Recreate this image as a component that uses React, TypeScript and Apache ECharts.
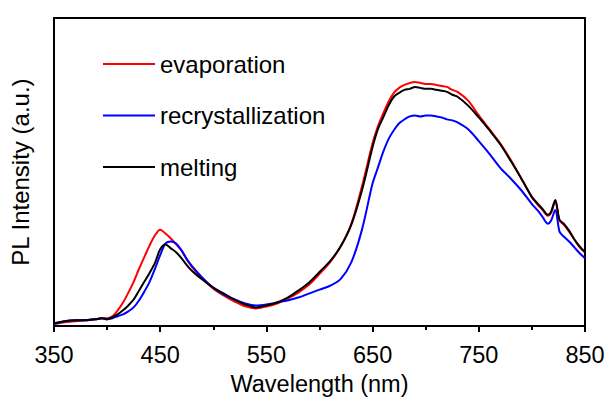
import React, { useEffect, useRef } from "react";
import * as echarts from "echarts";

// Wavelength sample points (nm)
const wavelengths = [
  350, 360, 370, 380, 390, 395, 400, 405, 410, 415, 420, 425, 430, 435, 440, 445,
  450, 455, 460, 465, 470, 475, 480, 490, 500, 510, 520, 530, 540, 550, 560, 570,
  580, 590, 600, 610, 620, 630, 640, 650, 655, 660, 665, 670, 675, 680, 685, 690,
  695, 700, 705, 710, 715, 720, 725, 730, 740, 750, 760, 770, 780, 790, 800, 805,
  810, 815, 818, 822, 826, 830, 835, 840, 845, 850,
];

// PL intensity (a.u.) for each preparation route
const evaporation = [
  2, 4, 5, 6, 7, 8, 8, 10, 16, 24, 34, 45, 58, 70, 82, 92,
  98, 94, 89, 83, 77, 68, 60, 48, 38, 31, 25, 20, 18, 20, 23, 28,
  34, 42, 53, 65, 81, 104, 142, 186, 203, 216, 228, 237, 242, 245, 247, 248,
  247, 246, 246, 245, 244, 243, 240, 238, 229, 214, 200, 186, 169, 150, 131, 124,
  118, 112, 115, 127, 107, 103, 96, 88, 80, 75,
];

const recrystallization = [
  2, 5, 6, 6, 7, 8, 7, 8, 10, 12, 15, 19, 26, 35, 45, 58,
  72, 84, 86, 84, 77, 68, 61, 49, 39, 32, 27, 23, 21, 22, 24, 26,
  29, 33, 37, 41, 48, 65, 98, 145, 161, 177, 190, 199, 206, 210, 213, 214,
  213, 214, 214, 213, 212, 210, 209, 207, 200, 188, 175, 161, 150, 138, 124, 118,
  111, 104, 107, 118, 96, 91, 86, 80, 74, 69,
];

const melting = [
  3, 5, 6, 6, 7, 8, 7, 9, 12, 16, 21, 27, 36, 45, 54, 64,
  78, 83, 79, 75, 69, 62, 56, 47, 39, 33, 27, 22, 19, 21, 24, 29,
  36, 44, 55, 66, 81, 103, 138, 182, 200, 212, 224, 233, 237, 240, 241, 243,
  242, 241, 241, 240, 239, 238, 235, 233, 224, 212, 199, 185, 168, 150, 131, 125,
  119, 113, 116, 128, 108, 104, 97, 88, 81, 75,
];

const FONT = "'Liberation Sans', Arial, sans-serif";

function pairs(values: number[]) {
  return wavelengths.map((w, i) => [w, values[i]]);
}

export default function App() {
  const ref = useRef<HTMLDivElement>(null);

  useEffect(() => {
    if (!ref.current) return;
    const chart = echarts.init(ref.current, undefined, { renderer: "svg" });

    const line = (name: string, color: string, values: number[]) => ({
      name,
      type: "line",
      data: pairs(values),
      symbol: "none",
      smooth: 0.3,
      lineStyle: { color, width: 2 },
      itemStyle: { color },
    });

    chart.setOption({
      animation: false,
      backgroundColor: "#fff",
      grid: {
        left: 52,
        right: 23,
        top: 18,
        bottom: 70,
        show: true,
        borderColor: "#000",
        borderWidth: 2,
      },
      legend: {
        orient: "vertical",
        left: 103,
        top: 52,
        padding: 0,
        itemGap: 27.5,
        itemWidth: 52,
        itemHeight: 2,
        icon: "rect",
        textStyle: { fontSize: 24, color: "#000", fontFamily: FONT },
        data: ["evaporation", "recrystallization", "melting"],
      },
      xAxis: {
        type: "value",
        min: 350,
        max: 850,
        interval: 100,
        name: "Wavelength (nm)",
        nameLocation: "middle",
        nameGap: 38,
        nameTextStyle: { fontSize: 23.5, color: "#000", fontFamily: FONT },
        axisLine: { show: true, lineStyle: { color: "#000", width: 2 } },
        axisTick: { show: true, inside: false, length: 6, lineStyle: { color: "#000", width: 2 } },
        minorTick: { show: true, splitNumber: 2, length: 4, lineStyle: { color: "#000", width: 2 } },
        axisLabel: { fontSize: 23.5, color: "#000", fontFamily: FONT, margin: 17 },
        splitLine: { show: false },
      },
      yAxis: {
        type: "value",
        min: 0,
        max: 313,
        name: "PL Intensity (a.u.)",
        nameLocation: "middle",
        nameGap: 22,
        nameTextStyle: { fontSize: 24, color: "#000", fontFamily: FONT },
        axisLine: { show: true, lineStyle: { color: "#000", width: 2 } },
        axisTick: { show: false },
        axisLabel: { show: false },
        splitLine: { show: false },
      },
      series: [
        line("evaporation", "#ff0000", evaporation),
        line("recrystallization", "#0000ff", recrystallization),
        line("melting", "#000000", melting),
      ],
    });

    return () => chart.dispose();
  }, []);

  return (
    <div
      ref={ref}
      style={{ position: "absolute", left: 0, top: 0, width: 608, height: 401 }}
    />
  );
}
